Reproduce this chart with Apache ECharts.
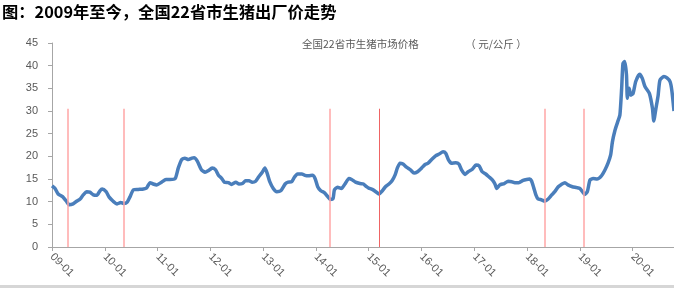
<!DOCTYPE html>
<html>
<head>
<meta charset="utf-8">
<script src="https://cdn.jsdelivr.net/npm/echarts@6/dist/echarts.min.js"></script>
<style>
html,body{margin:0;padding:0;background:#fff;}
#c{width:674px;height:293px;}
</style>
</head>
<body>
<div id="c"></div>
<script>
// months since Jan 2009 (position of each reading)
const months = [0,0.7,1.4,2.4,3.2,3.9,4.8,5.6,6.4,7.1,7.9,8.6,9.4,10.2,10.9,11.4,12.3,13.0,13.9,14.8,15.6,16.4,17.1,17.7,18.5,19.6,20.8,21.5,22.3,23.0,23.8,24.9,25.9,26.8,28.0,28.7,29.5,30.2,31.0,31.8,32.3,33.0,34.0,34.8,
35.5,36.4,37.2,37.8,38.6,39.2,40.1,40.8,41.8,42.5,43.3,44.0,44.8,45.5,46.3,47.0,47.8,48.4,48.9,49.5,50.3,51.1,52.0,53.0,53.7,54.5,55.1,55.8,56.8,57.5,58.3,59.2,59.8,60.4,61.1,61.9,62.7,63.3,63.9,64.2,64.9,65.8,66.6,67.5,68.1,69.0,70.0,70.8,71.5,
72.0,72.8,73.6,74.3,75.1,75.8,76.6,77.3,78.0,78.5,79.1,79.8,80.6,81.5,82.3,83.1,84.0,84.8,85.5,86.3,87.2,88.0,88.9,89.5,90.1,90.8,91.8,92.5,93.1,93.9,94.6,95.5,96.4,97.1,97.8,98.6,99.3,100.1,100.7,101.1,101.8,102.8,103.7,104.5,105.2,106.1,107.1,107.9,108.6,
109.0,109.5,110.0,110.5,111.3,112.0,112.8,113.6,114.3,115.1,115.8,116.6,117.3,118.3,119.3,120.0,120.6,121.1,121.7,122.3,123.0,123.9,124.9,125.7,126.4,127.0,127.4,128.0,128.6,129.1,129.5,129.8,130.2,130.6,130.8,131.2,131.6,132.1,132.7,133.6,134.2,134.8,135.8,136.5,136.8,137.3,137.8,138.2,139.1,139.8,140.5,140.9,141.4];
// price, yuan/kg
const prices = [13.5,12.9,11.7,11.1,10.2,9.3,9.5,10.1,10.6,11.5,12.2,12.1,11.5,11.4,12.4,12.8,12.2,11.0,10.1,9.5,9.8,9.6,9.9,11.0,12.6,12.7,12.8,13.0,14.2,13.9,13.7,14.3,14.9,14.9,15.1,17.4,19.3,19.6,19.3,19.6,19.7,19.0,17.0,16.5,
16.8,17.4,17.0,15.9,15.1,14.3,14.2,13.8,14.3,13.9,14.0,14.6,14.6,14.3,14.5,15.5,16.5,17.4,16.3,14.4,12.9,12.2,12.4,13.9,14.3,14.4,15.4,16.1,16.1,15.8,15.7,15.8,15.1,13.3,12.4,12.0,11.1,10.5,10.7,12.6,13.2,12.9,13.9,15.1,14.9,14.3,14.0,13.9,13.3,
13.0,12.7,12.2,11.7,12.4,13.3,13.9,14.6,15.9,17.4,18.5,18.3,17.6,17.0,16.3,16.6,17.4,18.2,18.5,19.3,20.1,20.5,21.0,20.7,19.3,18.5,18.6,18.3,17.0,16.0,16.6,17.1,18.1,17.9,16.6,16.1,15.5,14.8,13.9,12.9,13.7,14.0,14.5,14.4,14.2,14.2,14.7,14.9,15.0,
14.6,13.1,11.5,10.6,10.4,10.1,10.6,11.5,12.2,13.3,13.8,14.2,13.7,13.3,13.1,12.9,12.2,11.6,12.2,14.8,15.1,15.0,15.7,17.0,18.5,20.3,23.2,25.8,27.6,29.1,35.0,40.5,40.9,37.9,32.8,35.0,33.5,33.9,36.5,38.1,37.2,35.4,33.9,30.6,27.8,30.6,33.5,36.8,37.6,37.3,36.5,34.6,30.0];
// cycle-low marker positions (months since Jan 2009)
const markMonths = [3.56, 16.3, 63.2, 112.0, 120.9];
const markMonthsDark = [74.4];
const markTop = 30.5;
const yearLabels = ['09-01','10-01','11-01','12-01','13-01','14-01','15-01','16-01','17-01','18-01','19-01','20-01'];

const seriesData = months.map((m, i) => [m, prices[i]]);
const mkLines = (arr, style) => arr.map(m => [{coord:[m,0], lineStyle:style},{coord:[m,markTop]}]);
const lightStyle = {color:'#ffa6a6', width:1.5, type:'solid'};
const darkStyle = {color:'#ef6464', width:1, type:'solid'};

const chart = echarts.init(document.getElementById('c'));
chart.setOption({
  animation:false,
  backgroundColor:'#fff',
  title:[{
    text:'图：2009年至今，全国22省市生猪出厂价走势',
    left:-3, top:-1,
    textStyle:{fontFamily:'Noto Sans CJK SC', fontWeight:'bold', fontSize:16.3, color:'#000'}
  },{
    text:'全国22省市生猪市场价格　　　　  （ 元/公斤 ）',
    left:297, top:34,
    textStyle:{fontFamily:'Noto Sans CJK SC', fontWeight:'normal', fontSize:10.5, color:'#595959'}
  }],
  graphic:[{type:'rect', left:0, top:285, shape:{width:674, height:3}, style:{fill:'#d6d6d6'}}],
  grid:{left:52, right:0, top:43, bottom:46, containLabel:false},
  xAxis:{
    type:'value', min:0, max:141.4, interval:12,
    splitLine:{show:false},
    axisLine:{lineStyle:{color:'#a6a6a6', width:1}},
    axisTick:{show:true, length:4, lineStyle:{color:'#a6a6a6'}},
    axisLabel:{
      rotate:-45, showMaxLabel:false, margin:8,
      color:'#595959', fontSize:11, fontFamily:'Liberation Sans',
      formatter:(v)=> { const i = Math.round(v/12); return (Math.abs(v - i*12) < 0.01 && yearLabels[i]) ? yearLabels[i] : ''; }
    }
  },
  yAxis:{
    type:'value', min:0, max:45, interval:5,
    splitLine:{show:false},
    axisLine:{show:true, lineStyle:{color:'#a6a6a6', width:1}},
    axisTick:{show:true, length:4, lineStyle:{color:'#a6a6a6'}},
    axisLabel:{color:'#595959', fontSize:11, margin:14, fontFamily:'Liberation Sans'}
  },
  series:[{
    type:'line', data:seriesData, showSymbol:false, smooth:0.2,
    lineStyle:{color:'#4a7ebb', width:3.5},
    itemStyle:{color:'#4a7ebb'},
    markLine:{
      silent:true, symbol:'none', label:{show:false},
      lineStyle:lightStyle,
      data: mkLines(markMonths, lightStyle).concat(mkLines(markMonthsDark, darkStyle))
    },
    z:3
  }]
});
</script>
</body>
</html>
